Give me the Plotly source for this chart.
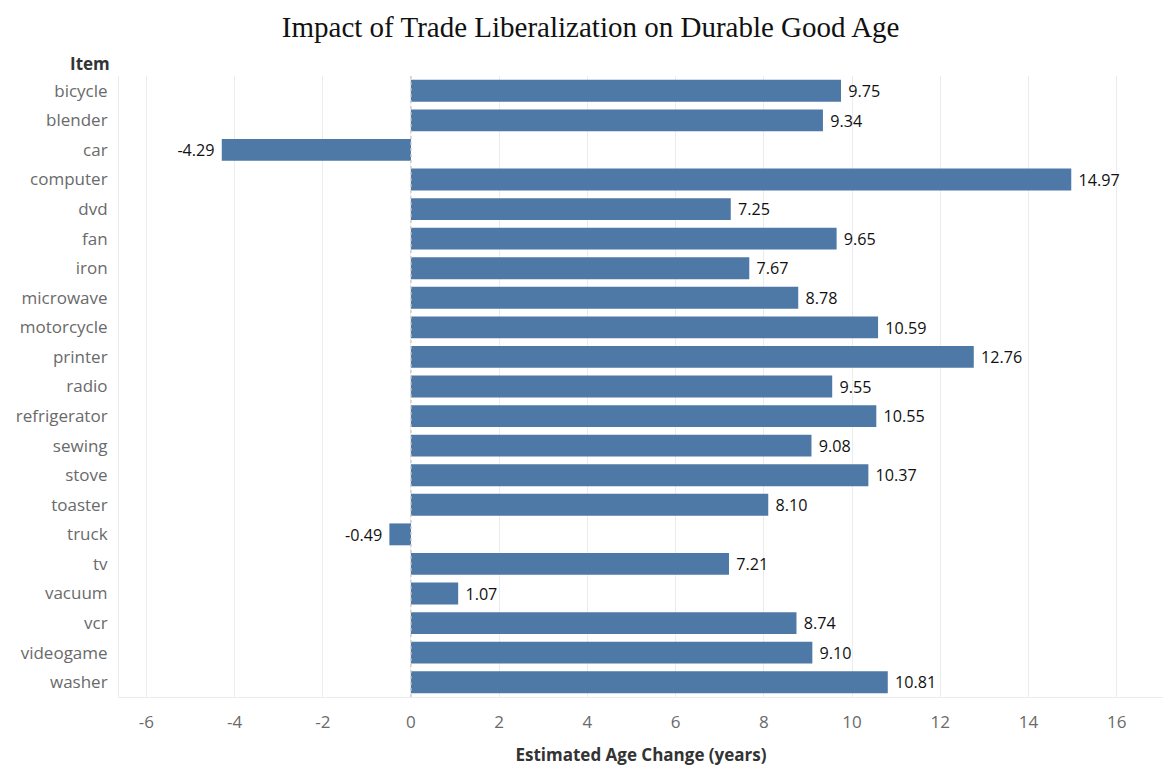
import plotly.graph_objects as go

items = ["bicycle", "blender", "car", "computer", "dvd", "fan", "iron", "microwave",
         "motorcycle", "printer", "radio", "refrigerator", "sewing", "stove", "toaster",
         "truck", "tv", "vacuum", "vcr", "videogame", "washer"]
age_change = [9.75, 9.34, -4.29, 14.97, 7.25, 9.65, 7.67, 8.78, 10.59, 12.76, 9.55,
              10.55, 9.08, 10.37, 8.10, -0.49, 7.21, 1.07, 8.74, 9.10, 10.81]
x_ticks = [-6, -4, -2, 0, 2, 4, 6, 8, 10, 12, 14, 16]

BAR_BLUE = "#4e79a7"
SANS = "Open Sans, Lato, sans-serif"

# pad value labels away from the bar end on whichever side they sit
labels = [(f"{v:.2f} " if v < 0 else f" {v:.2f}") for v in age_change]

fig = go.Figure()
fig.add_trace(go.Bar(
    y=items,
    x=age_change,
    orientation="h",
    marker=dict(color=BAR_BLUE, line=dict(width=0)),
    text=labels,
    textposition="outside",
    textfont=dict(family=SANS, size=17, color="#111111"),
    cliponaxis=False,
    width=0.74,
))

fig.add_vline(x=0, line=dict(color="#c8c8c8", width=1.3, dash="dot"))

fig.update_layout(
    width=1165, height=766,
    margin=dict(l=119, r=2, t=76, b=69),
    paper_bgcolor="white",
    plot_bgcolor="white",
    showlegend=False,
    title=dict(
        text="Impact of Trade Liberalization on Durable Good Age",
        x=0.507, xanchor="center", y=0.965, yanchor="middle",
        font=dict(family="Liberation Serif, DejaVu Serif, serif", size=29, color="#111111"),
    ),
    xaxis=dict(
        range=[-6.62, 17.05],
        tickvals=x_ticks,
        ticktext=[str(t) for t in x_ticks],
        showgrid=True, gridcolor="#ececec", gridwidth=1,
        zeroline=False,
        showline=True, linecolor="#ececec", linewidth=1, mirror=False,
        ticks="", ticklabelstandoff=10,
        tickfont=dict(family=SANS, size=17, color="#6a6a6a"),
        title=dict(text="<b>Estimated Age Change (years)</b>", standoff=20,
                   font=dict(family=SANS, size=17, color="#333333")),
    ),
    yaxis=dict(
        categoryorder="array", categoryarray=items,
        autorange="reversed",
        showgrid=False, zeroline=False,
        showline=True, linecolor="#ececec", linewidth=1,
        ticks="", ticklabelstandoff=7,
        tickfont=dict(family=SANS, size=17, color="#6a6a6a"),
    ),
    bargap=0.26,
)

fig.add_annotation(
    text="<b>Item</b>", xref="paper", yref="paper", x=0, y=1.0,
    xanchor="right", yanchor="bottom", xshift=-7, yshift=-1, showarrow=False,
    font=dict(family=SANS, size=17, color="#333333"),
)

fig.write_html("out.html")
